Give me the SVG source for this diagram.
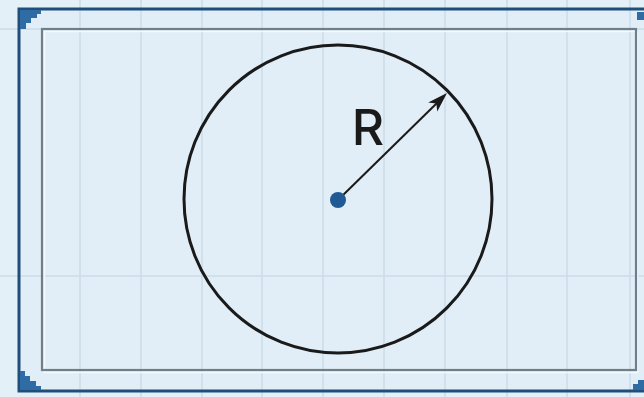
<svg xmlns="http://www.w3.org/2000/svg" width="644" height="397" viewBox="0 0 644 397">
<defs>
<style>
.grid{stroke:#cbdde9;stroke-width:1.5}
.orn{fill:#2f6ca6}
</style>
</defs>
<rect width="644" height="397" fill="#e4f0f8"/>
<g id="frame">
<rect x="19" y="9" width="640" height="382" fill="#e1eef8"/>
<g id="grid">
<line class="grid" x1="0" y1="29" x2="644" y2="29"/>
<line class="grid" x1="0" y1="276" x2="644" y2="276"/>
<line class="grid" x1="80" y1="0" x2="80" y2="397"/>
<line class="grid" x1="141" y1="0" x2="141" y2="397"/>
<line class="grid" x1="202" y1="0" x2="202" y2="397"/>
<line class="grid" x1="262" y1="0" x2="262" y2="397"/>
<line class="grid" x1="323" y1="0" x2="323" y2="397"/>
<line class="grid" x1="384" y1="0" x2="384" y2="397"/>
<line class="grid" x1="445" y1="0" x2="445" y2="397"/>
<line class="grid" x1="507" y1="0" x2="507" y2="397"/>
<line class="grid" x1="567" y1="0" x2="567" y2="397"/>
<line class="grid" x1="630" y1="0" x2="630" y2="397"/>
</g>
<rect x="19" y="9" width="640" height="382" fill="none" stroke="#1f4e7a" stroke-width="3"/>
<rect x="44.5" y="31.5" width="593" height="341" fill="none" stroke="#f4f9fc" stroke-width="1.5"/>
<rect x="42" y="29" width="594" height="341" fill="none" stroke="#6f7f89" stroke-width="2.2"/>
<polygon class="orn" points="20,10 41,10 41,14 37,14 37,18 31,18 31,23 26,23 26,29 20,29"/>
<polygon class="orn" points="20,390 41,390 41,386 36,386 36,381 30,381 30,376 25,376 25,371 20,371"/>
<polygon class="orn" points="644,12 637,12 637,20 644,20"/>
<polygon class="orn" points="644,390 633,390 633,384 638,384 638,380 644,380"/>
</g>
<g id="circle">
<circle cx="338" cy="199" r="154" fill="none" stroke="#1a1a1a" stroke-width="3"/>
</g>
<g id="connectors">
<line x1="338" y1="200" x2="437" y2="103" stroke="#1a1a1a" stroke-width="2"/>
<path d="M447,93 L437.3,111.6 L436.3,103.5 L428.2,102.4 Z" fill="#1a1a1a"/>
</g>
<g id="center">
<circle cx="338" cy="200" r="8" fill="#1f5a94"/>
</g>
<g id="label">
<text x="368" y="145" font-family="Inter, 'Open Sans', sans-serif" font-size="50" font-weight="500" fill="#1a1a1a" text-anchor="middle">R</text>
</g>
</svg>
